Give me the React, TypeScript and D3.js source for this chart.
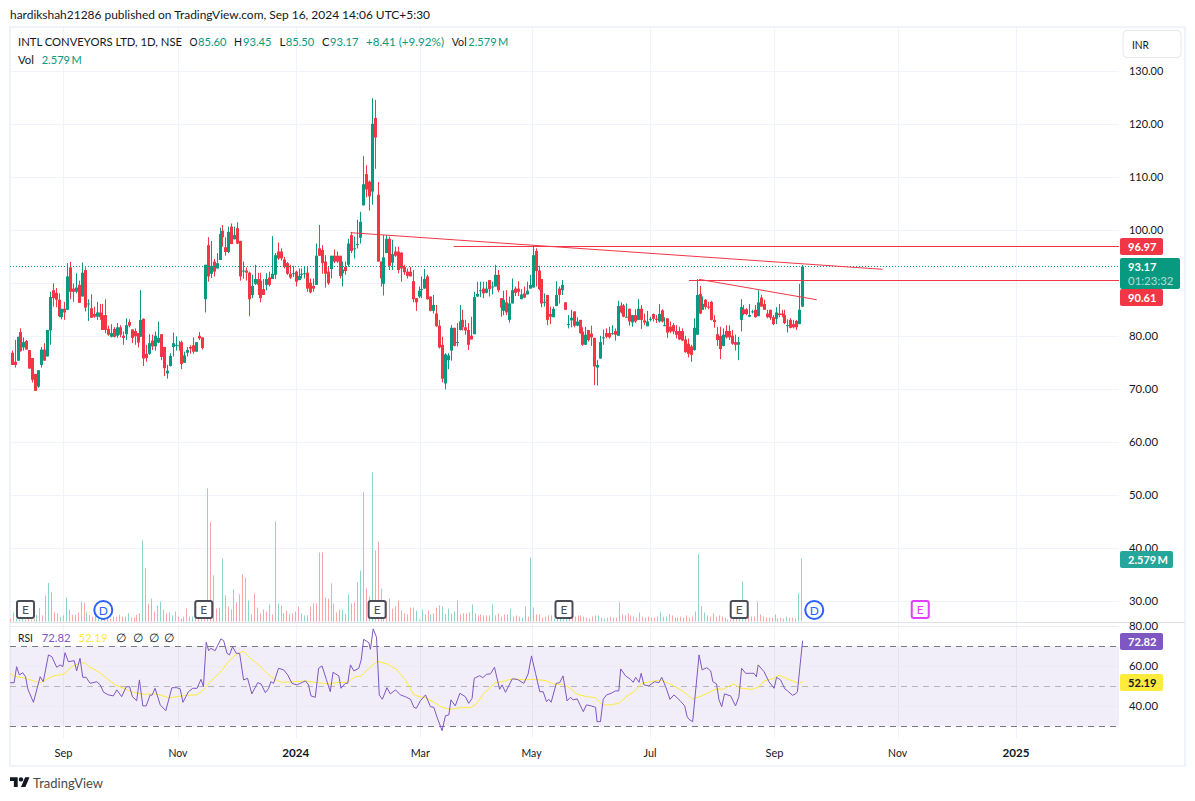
import React from "react";
import * as d3 from "d3";

// candle rows: [open, close, high, low]
const candles: number[][] = [
[76.9,74.6,77.3,74.6],[75.2,74.6,79.3,74.1],[75.4,79.9,79.9,75.4],[80.8,77.2,81.5,77.1],[77.9,78.9,79.8,77.3],[79.1,77.5,79.3,77.5],[77.4,73.9,77.4,73.9],[75.9,71.8,75.9,71.3],[72.9,69.7,72.9,69.7],[70.5,73.6,73.6,70.3],
[74.6,77.5,78,74.1],[77.5,75.4,78.7,75.4],[76.2,81.2,81.2,76.2],[81.1,87.4,88.4,78.4],[88.7,87.2,90,85.6],[88.2,86.9,89.1,85.5],[86.9,83.8,88.1,83.6],[83.6,85.2,85.2,83.2],[85.2,84.5,86.5,83.1],[85,91.3,93.8,85],
[93,88.4,94,87],[89,88.4,90,86.5],[88.4,89.2,91.9,88.1],[89.7,86.3,90.5,86.3],[87.5,92,93.9,87.5],[92.5,85.4,93,84.7],[86.2,86.2,87,82.9],[85.3,83.5,87.9,83.5],[84.2,83.7,85.6,83.5],[83.7,84.5,86.5,83.1],
[84.5,83.6,86.1,83.1],[84,81.2,86.1,81.2],[84,81.2,87,80.6],[81.4,80.3,82,80.1],[79.9,80.6,82.3,79.8],[81.4,79.9,81.7,79.8],[80.1,81.7,82.5,79.7],[81.7,80.3,82.1,79.8],[80.1,79.7,80.9,78.4],[80.4,82.1,83.4,79.3],
[82.7,82,83.2,81.7],[81.3,79.7,81.3,78.7],[81,80,81.5,78.4],[80.6,78.8,80.6,77.9],[79.9,83.1,88.7,79.9],[83.3,75.8,83.4,74.4],[76.7,75.9,78.4,75.2],[76.7,78.7,80.4,76.5],[79.2,78.1,80.3,77.4],[78.1,80.1,80.9,77.3],[78.8,79.7,82.8,78.7],
[80.4,76.1,80.4,75.5],[78,74,78,72.5],[73,73.5,74.6,72],[74.4,76.3,76.8,74.3],[78,78.7,80.7,76.2],[78.2,78.4,80,77.3],[78.2,78.3,79.1,77.3],[78.9,74.8,79.2,73.8],[75,76.4,77.1,75],[76.9,77.4,78,76.2],
[78,77.7,78.3,76.7],[78.3,77.1,79.8,76.7],[77.1,78.9,78.9,77.1],[80.1,79.6,80.8,79.3],[79.8,77.8,79.8,77.5],
[87,93.5,93.5,84.5],[97.2,91.3,98.7,90.3],[91.8,93.3,98,91],[94.1,92.2,94.6,91.3],[92.8,93.8,95.7,92.8],[94.4,99.3,100.5,94.4],[99.9,98.7,101,96.9],[96.8,95.9,98.7,95.2],[95.9,99.7,100.7,95.7],[100.7,97.4,101.3,97.4],
[98.3,99.1,100.7,98.3],[100.4,97.5,101.5,97.4],[98,91.3,98,90.5],[92.4,92.4,94.1,90.9],[92.4,92,93,90.5],[92,87,92.2,83.8],[87.8,89.5,91.6,87.2],[89.9,90.8,93.5,89.7],[90.8,89.7,92,87.8],[90.5,87.2,92,86.4],[88.9,87.8,90.8,87.8],
[89.7,90.8,91.9,88.7],[91.1,89.7,92.2,89.4],[90.8,91.8,98.9,90.8],[91.6,95.3,95.7,90.8],[96,94.7,97.7,94.4],[96,94.7,96.6,94.3],[94.5,93.1,95,92.8],[93.8,91.8,94,91.6],[91.8,91.1,93.5,90.8],[91.8,91.9,93.3,91.2],
[92.2,90.3,92.4,89.4],[90.6,91.4,92.8,90.6],[91.8,91.8,92.8,90.9],[91.9,91.9,93.1,90.9],[92,89,93.1,88.4],[90.1,88.3,90.9,88.1],[89.5,89,90.9,88.4],[89.7,95.2,97.5,89.7],[96.6,95.2,101,95.2],[96.3,93.8,97.2,91.8],
[94.1,91.8,95.3,89.2],[92.2,90,93.1,89.7],[92.7,95.2,95.2,90.9],[95.2,94.1,96.4,93.8],[95.2,94.1,96,93.8],[95.2,91.4,95.2,90.9],[91.9,92.6,94.1,89.4],[93.1,92.3,94.1,91.6],[93.5,97.5,98.4,93.1],[99.1,96.1,99.7,95.7],
[96.6,96.6,98.8,94.7],[97.4,97.4,102,96.6],[98.6,101.6,103.5,97.5],[104.7,108.7,114,104.7],[110.6,107.7,112.3,106.2],[109.2,106.4,109.4,103.7],[107.3,120.1,124.9,104.8],[121.2,117.5,124.6,111.6],[106.7,94.1,109.1,94.1],[94.1,90.9,94.1,89.4],
[89.9,94.9,99.1,87.7],[95.7,98.4,99.1,95.7],[98.4,93.3,98.8,92.5],[93.9,95.5,98.2,92.5],[96,95.2,96.9,95],[96,92.5,96.9,91.9],[95.8,92.8,95.8,90.3],[93.1,92.1,93.5,91.6],[92.2,91.4,92.8,90.9],[92.2,91.3,93.1,91.3],
[90.4,87,92.5,86.4],[87.2,86.4,87.2,84.8],[87.5,88.6,89.4,87.2],[88.9,88.9,91.3,87.2],[89,90.8,92.7,89],[91.3,87,91.6,86.9],[87.5,84.8,87.5,84.7],[84.8,85.9,87.8,84.3],[84.3,81.9,85.9,81.8],[82,77.9,83.1,77.7],
[78.4,72,79.9,71.3],[71.1,76.6,76.8,70],[75.5,76.4,76.8,73.8],[77.3,81.6,82.1,75.4],[81.6,78.2,81.6,78.1],[78.9,78.9,82.5,78.1],[81.2,82.8,85.9,81.1],[83.1,81.7,85,81.1],[81.7,81.1,83.1,80.3],[81.2,78.4,82.5,77.4],
[80.1,79.4,83.7,79.4],[80.4,87.4,88.4,80.4],[87.5,88,90.3,87.4],[88.7,88.7,90.3,87.4],[89,88.1,90.3,87.2],[88.2,89,90.3,88.1],[90.6,88.9,90.6,87.5],[89.4,89.4,90.3,87.9],[89.4,91.6,93.5,89.4],[91.6,88.7,92.5,88.3],
[87.2,85.4,87.2,83.7],[84.8,86.9,88.6,84],[86.4,84.5,88.7,84],[83.1,86.2,87.5,82.6],[86.2,88.7,90.9,86.2],[89,88.2,89.4,87.6],[89,88.4,90.4,87.6],[87,87.9,88.9,87],[88.1,87.3,89.4,87.2],[87.9,88.6,90.3,87.9],
[89,89.7,91.6,89],[89.2,95.3,97.2,89.2],[96.1,92.3,96.6,89.4],[92.4,88.9,93.3,88.7],[90.8,86.2,90.8,85.5],[86.5,86.5,88.1,85.6],[87.8,83.1,87.8,82.1],[84.2,83.7,85.6,82.3],[83.6,85.2,85.6,83.6],
[85.7,87.8,90.4,85.7],[89,87.8,89.4,86.2],[88.7,89.7,90.6,87.8],[86.4,85,86.4,85],[82.3,82.3,84,81.5],[83,83.5,85,81.7],[84.7,82,84.7,81.7],[82,82.8,83.6,81.9],[83.1,80.6,83.1,80.5],[80.9,78.4,81.7,78.2],
[78.4,80.3,81.8,78.4],[81.2,79.3,81.2,79],[80.5,79.8,82,78.2],[79.7,74.3,79.7,70.8],
[74.1,74.6,75.5,70.7],[75.8,78.9,80.1,75.8],[79.8,79.8,81.3,78.4],[80.6,79.9,81.5,79.6],[80.6,79.8,81.8,79.6],[80.6,80.6,82.1,80.3],[81,80.3,81.5,79.2],[80.1,85.7,86.7,80.1],[85.8,84.5,86.4,84.3],[85.8,83.7,86.1,83.6],
[83.7,83.7,86.2,83.6],[85.2,82.8,85.2,82],[82.6,84,84,81.8],[84,82.8,85.1,82.5],[83.1,85.2,87,83.1],[85.2,83.1,85.9,81.4],[83,82.6,84.3,82.1],[81.9,82.8,84.8,81.9],[83.3,83.3,83.7,82.8],[84.2,83.3,84.3,82.8],
[83.3,83.1,84,82.5],[82.8,84.2,86.1,82.6],[84.9,82.8,85.1,82.6],[82.1,82.1,83.6,81.9],[83.4,80.7,83.4,79.7],[81.8,80.9,82.8,80.6],[82.1,80.9,82.5,80.4],[81,80.3,82.1,79.6],[81,79.4,81.8,79.3],[81,79.2,81.5,79.1],
[79.4,77,80.1,76.9],[78.6,76.7,79.6,76],[78.1,76.5,78.4,75.2],[77.4,81.6,83.4,77.3],[80.3,87.8,90.8,80.3],[88,84.3,89.5,84.2],[85,86.1,87.5,85],[86.9,85.5,87,85.1],[85.6,85.5,86.5,85.1],[86.5,83.1,86.7,83],
[83.1,82.7,84,81.6],[80.4,79.3,81.8,78.2],[80.1,77.6,81.8,75.7],[78.2,80.3,81.5,78.1],[81,79.8,82.1,79.6],[81,79.8,82.1,79.3],[80.1,78.6,81.2,78.4],[78.9,78.4,80.3,77.3],[78.4,78.9,79.9,75.5],[83.1,85.5,87,80.9],
[85.1,84.2,85.9,84],[85.1,84.2,85.3,84],[83.7,84,86.1,83.6],[84.7,84.7,85,84.3],[85,83.6,85.9,83.5],[83.8,86.4,88.7,83.8],[87.3,85.6,87.8,85.6],[86.1,85,86.9,85],[84.3,83.6,85,83.4],[85,83.5,85,83.1],
[83.6,82.3,84,82.1],[83.3,84.5,85.5,82.3],[84.3,84,86.1,83.6],[84.3,84,85,83.6],[84,82.5,85,82.3],[82.1,82.1,83.2,80.7],[83.1,81.6,83.4,81.5],[82.3,81.7,83.1,81.5],[82.9,81.7,83.1,81.2],[82.3,85,89.9,82.3],
[85.6,93.17,93.45,85.5],
];

// traded volume in millions; negative = down day, positive = up day
const volumes = [
-.11,-.37,.11,-.08,.11,-.08,-.11,-.08,-.11,.27,.55,-.25,1.07,1.58,-1.19,-.37,-.33,.19,-.25,.98,-.49,-.27,-.27,-.37,.82,-.78,.37,-.27,-.2,-.27,.11,-.11,-.11,-.11,-.11,-.2,-.2,.27,-.2,-.2,.33,-.16,-.16,-.27,-.33,3.32,-2.17,-.74,.94,-.41,.66,.82,-.49,-.33,.37,.25,.41,-.2,.12,-.2,-.53,.2,.2,-.16,-.11,-.11,-.11,
5.45,-4.06,1.89,-.53,.57,2.58,-1.07,-.61,-.49,1.31,-.78,1.11,-1.93,-1.8,.86,-.29,-1.15,.57,-.33,-.49,-.41,.7,-.29,4.1,.74,-.66,-.33,-.45,-.29,-.33,.41,-.61,.33,.25,.25,-.61,-.74,-.74,2.83,-2.83,-.98,-.94,1.56,-.74,-.37,-.49,.49,-.29,1.11,-.74,-.78,1.6,2.09,5.29,-1.35,-1.02,6.11,-2.91,-3.28,-1.35,.74,-.82,.94,-.53,-.61,-.86,-.45,-.33,-.29,-.57,-.57,.45,
-.08,.49,-.29,-.45,.29,-.33,-.57,-.66,.61,.29,.53,-.33,.41,.86,-.29,-.33,-.33,-.37,.7,.33,-.25,-.29,-.25,-.25,-.25,.7,-.25,-.33,.2,-.29,.29,.53,-.2,-.25,-.2,.16,.61,-.2,2.62,-.57,-.29,-.29,-.16,-.2,-.25,-.25,.11,.11,.11,.11,.11,.11,-.2,-.2,-.25,-.25,.2,-.16,-.12,-.2,.25,.25,.16,.12,-.16,-.2,.16,-.16,.78,-.29,-.25,-.33,-.25,.2,-.16,.37,-.2,.16,-.2,-.16,-.16,.2,.37,.2,.2,-.29,-.25,-.16,-.16,-.2,-.16,-.25,-.16,-.2,.41,2.75,-.61,.37,-.25,-.2,-.33,-.2,-.25,-.2,-.16,-.08,-.08,-.11,-.11,-.11,1.64,-.11,-.2,-.2,-.2,.82,-.29,-.2,-.16,-.16,-.16,.29,-.12,-.16,-.12,.2,-.16,-.16,-.12,1.15,2.579,
];

const rsiBars = [-0.5,0.8,1.6,2.5,3.6,4.5,5.3,7.1,9.3,10.3,12,13.1,14.7,15.8,16.7,17.4,18.5,20.4,21.2,22.3,23.2,24.3,25.6,27.8,28.9,30,31.6,33.2,34.3,35.9,37.4,38.5,39.4,40.8,41.7,42.8,43.9,45.2,45.8,46.8,48.5,50.3,52.3,53.9,55,55.9,57.7,59.1,60.5,61.8,62.6,63.5,64.3,65,66.4,68.3,69.2,70.3,71.1,72.1,73.3,74.4,75.7,77,78.4,80.3,81.4,82.8,83.9,84.6,85.5,87.1,88.8,90.1,91.5,93.1,94.2,95.9,96.9,97.7,99.1,100.2,101.3,102.7,104,104.9,106.8,107.5,108.9,109.7,110.6,111.7,113.3,114.1,114.9,116.6,117.1,118,119.1,120,121,122.5,123.6,125.3,126.9,128.5,130.2,131.3,132.1,133.4,135.1,136.7,137.8,138.8,140.5,141.6,142.7,143.4,144.8,146.3,148.1,149.2,150.3,151,152.8,153.8,155,156.3,157.6,159.3,160.1,161.2,163.4,165,167.2,168.6,169.7,171,172.4,173.5,174.6,175.3,176.1,177.8,178.9,180,181.3,182.4,183.3,184.6,186.6,187.6,189.2,190.6,191.1,192.2,193.1,194.2,195.7,197.1,198.2,198.8,200.4,202,202.9,203.7,204.8,205.5,206.4,208,209.9,211.3,212.2,213.5,214.9,216.2,218.2,219.7,220.5,221.1,222.3,224.4,225.4,226.9,228.2,228.9,230.1,230.9,231.8,232.7,234.7,236.3,237.4,238.3,239.6,241.2,242.3,243.1,243.7,245.6,247.2,248.9,249.7,251,252.4,253.2,254.9,255.9,256.5,258.2];
const rsiValues = [51.8,51.8,59.8,55.7,56.8,54.8,48.5,42,54.8,52.3,65.7,64.8,59.5,60.7,59.8,66.8,62.3,62.8,57.7,64,54.5,54.5,51.5,52.3,50.7,47,45.7,45.2,48.2,44.8,49.8,49.8,44.8,42.8,53.2,40.2,40.2,45.7,45.5,49,40.7,37.8,49.3,49.3,48.7,42,47.3,49,49,53.5,49.8,72,67.8,69,67.8,73.7,72.8,66.5,65.7,69.8,66.5,66.5,53.2,54,46.2,51.8,51.2,46.8,49,52.3,51.5,59,58.2,55.7,51.5,50.7,51.5,52.7,50.7,45.2,44.5,59,60.2,53.5,47.3,57,55.2,49,51.5,51.5,60.7,57.7,59,63.2,73.5,71.8,68.5,78.7,74.5,45.7,43.5,49.3,46.2,48.2,45.7,44.8,43.5,39.5,39,42.7,45.7,39.8,39.5,34.8,27.8,35.3,35.7,43.2,40.2,46.5,44.8,41.5,44,54,55.3,54.3,56,56.2,59.5,48.5,50.7,47,53.7,53.5,51.5,56.2,65.2,56.5,47.3,47.3,42.3,43.5,42,51.5,51.8,55.2,42.7,44.5,43.2,43.7,37.3,40.7,40.2,39.5,32.3,32.3,43.5,45.7,46.5,47.7,47.7,58.7,55.2,53.5,52,54.5,52,56.5,50.7,50.2,52.3,51.8,54.5,49.8,43.5,45.7,42.8,40.2,34.8,33.5,32.3,65.7,58.2,59.3,57.7,52.3,51.2,43.2,39.8,46.2,45.2,40.2,44.8,59,56.5,56.5,56.5,54.8,60.7,57.3,52.3,49,54.5,53.2,48.7,47.8,45.5,46.2,47.3,72.82];
const maBars = [-0.5,1.1,3.8,6,9.3,11.4,13.6,16.9,19.6,22.3,24,25.6,28.3,31,33.8,36.5,39.8,43,46.3,48.5,51.2,53.9,57.2,60.5,62.6,64.8,68.1,70.3,73,75.7,77.9,81.2,83.9,86.1,88.2,91,95.9,99.7,104,106.8,109.5,112.2,114.1,116.6,119.3,122.5,125.8,128.5,131.3,133.4,135.6,138.3,140.5,143.2,146.5,149.7,151.9,154.1,157.9,160.1,163.4,167.2,171,174.3,177,180.2,182.4,184.6,187.9,190.6,192.8,195.5,198.2,200.9,203.1,205.8,208.6,211.8,215.1,218.9,222.2,225.4,229.8,232.5,235.6,238,241.8,244,245.6,248.3,250.5,253.2,257,258.2];
const maValues = [56.5,54.8,54.3,53.2,51.8,53.5,55.2,56,59.8,61.8,61.5,59.5,57.3,54,50.7,49,47,46,46.2,45.7,44.2,44.8,45.5,45.7,48.2,52.3,57,61.5,65.7,67.5,64,59.8,55.7,53.2,52,52.2,52.7,51.8,51.2,52,52,54.8,55.2,59,62.5,61.2,58.2,53.2,45.7,44.8,44,41.5,39.5,38.5,39.3,39.3,41.5,46.5,51.8,52.3,53.8,53.2,53.5,52.8,51,51,49,46,44.8,44.3,40.7,40.7,41.5,45.2,47.3,51.5,52.3,53.2,51,47.8,43.7,45.3,48.5,48.7,51.2,49,48.5,49.8,52.7,53.7,55.5,53.7,51.5,52.19];

const priceTicks = [130,120,110,100,90,80,70,60,50,40,30];
const rsiGridTicks = [80,60,40];
const rsiBandTicks = [70,50,30];
const rsiTickLabels = [80,60,40];
const timeTicks = [
  { at: 16.9, label: "Sep", bold: false, w: 18 },
  { at: 54.3, label: "Nov", bold: false, w: 19 },
  { at: 92.7, label: "2024", bold: true, w: 27 },
  { at: 133.4, label: "Mar", bold: false, w: 19 },
  { at: 169.7, label: "May", bold: false, w: 20 },
  { at: 208.4, label: "Jul", bold: false, w: 13 },
  { at: 249, label: "Sep", bold: false, w: 18 },
  { at: 289.2, label: "Nov", bold: false, w: 19 },
  { at: 327.9, label: "2025", bold: true, w: 27 },
];
const earningsAt = [4.5, 62.7, 119.3, 180.3, 237.5];
const futureEarningsAt = [296.6];
const dividendAt = [29.9, 262];
// trend lines: [time1, price1, time2, price2]
const trendLines = [
  [110.6, 99.55, 284.3, 92.64],
  [224.4, 90.75, 262.8, 86.9],
];
const horizontalRays = [
  { at: 144.3, price: 96.97 },
  { at: 221.1, price: 90.61 },
];
const lastPrice = 93.17;
const lastVolume = 2.579;
const lastRsi = 72.82;
const lastRsiMa = 52.19;

const FONT = "Lato, 'Noto Sans', sans-serif";
const GREEN = "#089981";
const RED = "#F23645";
const PURPLE = "#7E57C2";
const YELLOW = "#FFEB3B";
const GRID = "#f0f3fa";
const TEXT = "#131722";
const PANE = { l: 10, r: 1119, t: 27, b: 738 };

export default function App() {
  const x = d3.scaleLinear().domain([0, 258]).range([11.7, 802]);
  const cx = d3.scaleLinear().domain([0, candles.length - 1]).range([11.7, 802]);
  const vx = d3.scaleLinear().domain([0, volumes.length - 1]).range([10.5, 801.5]);
  const y = d3.scaleLinear().domain([120, 30]).range([124.3, 601.3]);
  const v = d3.scaleLinear().domain([0, lastVolume]).range([621.5, 558.5]);
  const r = d3.scaleLinear().domain([70, 30]).range([646.3, 726.3]);
  const snap = (n: number) => Math.round(n) + 0.5;
  const rsiLine = d3.line<number>().x((_, i) => x(rsiBars[i])).y((d) => r(d));
  const maLine = d3.line<number>().x((_, i) => x(maBars[i])).y((d) => r(d));

  const t = (s: string, px: number, py: number, fill = TEXT, w?: number, extra: any = {}) => (
    <text key={`${s}-${px}-${py}`} x={px} y={py} fill={fill} fontSize={12} fontFamily={FONT}
      {...(w ? { textLength: w, lengthAdjust: "spacingAndGlyphs" } : {})} {...extra}>{s}</text>
  );
  const tag = (s: string, top: number, w: number, fill: string, color = "#fff") => (
    <g>
      <rect x={1120} y={top} width={w} height={17} rx={2} fill={fill} />
      {t(s, 1128, top + 12.7, color, 28.5, { fontWeight: 700 })}
    </g>
  );

  return (
    <svg width={1195} height={801} style={{ position: "absolute", left: 0, top: 0, background: "#fff" }}>
      <defs>
        <clipPath id="pane"><rect x={PANE.l} y={PANE.t} width={PANE.r - PANE.l} height={PANE.b - PANE.t} /></clipPath>
      </defs>
      {t("hardikshah21286 published on TradingView.com, Sep 16, 2024 14:06 UTC+5:30", 10, 19, TEXT, 420)}
      <rect x={10} y={27} width={1175} height={739} fill="none" stroke={GRID} strokeWidth={2} />

      {/* grid */}
      {priceTicks.map((p) => (
        <line key={p} x1={PANE.l} x2={PANE.r} y1={snap(y(p))} y2={snap(y(p))} stroke={GRID} />
      ))}
      {timeTicks.map((k) => (
        <line key={k.at} x1={snap(x(k.at))} x2={snap(x(k.at))} y1={PANE.t} y2={PANE.b} stroke={GRID} />
      ))}

      {/* volume */}
      <g clipPath="url(#pane)">
        {volumes.map((m, i) => {
          const a = Math.abs(m);
          return (
            <rect key={i} x={Math.floor(vx(i))} y={v(a)} width={1} height={v(0) - v(a)} fill={m > 0 ? "#8fd4cb" : "#f9a6a6"} />
          );
        })}
      </g>

      {/* candles */}
      <g clipPath="url(#pane)">
        {candles.map((c, i) => {
          const [o, cl, h, l] = c;
          const px = cx(i);
          const col = cl >= o ? GREEN : RED;
          const top = y(Math.max(o, cl));
          const bot = y(Math.min(o, cl));
          return (
            <g key={i}>
              <rect x={Math.round(px)} y={y(h)} width={1} height={y(l) - y(h)} fill={col} />
              <rect x={Math.round(px) - 1} y={top} width={3} height={Math.max(1, bot - top)} fill={col} />
            </g>
          );
        })}
        <line x1={PANE.l} x2={PANE.r} y1={snap(y(lastPrice))} y2={snap(y(lastPrice))} stroke={GREEN} strokeDasharray="1 2" />
        {trendLines.map((l, i) => (
          <line key={i} x1={x(l[0])} y1={y(l[1])} x2={x(l[2])} y2={y(l[3])} stroke={RED} strokeWidth={1} />
        ))}
        {horizontalRays.map((l, i) => (
          <line key={i} x1={x(l.at)} y1={snap(y(l.price))} x2={PANE.r} y2={snap(y(l.price))} stroke={RED} strokeWidth={1} />
        ))}
      </g>

      {/* earnings & dividends */}
      {earningsAt.map((b) => (
        <g key={b}>
          <rect x={x(b) - 8.5} y={601} width={17} height={17} rx={2} fill="#fff" stroke="#4a4d57" strokeWidth={2} />
          {t("E", x(b), 614, "#4a4d57", undefined, { textAnchor: "middle" })}
        </g>
      ))}
      {futureEarningsAt.map((b) => (
        <g key={b}>
          <rect x={x(b) - 8.5} y={601} width={17} height={17} rx={2} fill="#fff" stroke="#E040FB" strokeWidth={2} />
          {t("E", x(b), 614, "#E040FB", undefined, { textAnchor: "middle" })}
        </g>
      ))}
      {dividendAt.map((b) => (
        <g key={b}>
          <circle cx={x(b)} cy={610} r={9} fill="#fff" stroke="#2962FF" strokeWidth={2} />
          {t("D", x(b), 614.5, "#2962FF", undefined, { textAnchor: "middle" })}
        </g>
      ))}

      {/* RSI pane */}
      <line x1={10} x2={1185} y1={622.5} y2={622.5} stroke="#e0e3eb" />
      <rect x={PANE.l} y={r(70)} width={PANE.r - PANE.l} height={r(30) - r(70)} fill={PURPLE} fillOpacity={0.1} />
      {rsiGridTicks.map((p) => (
        <line key={p} x1={PANE.l} x2={PANE.r} y1={snap(r(p))} y2={snap(r(p))} stroke="#ebebf3" />
      ))}
      {rsiBandTicks.map((p) => (
        <line key={p} x1={PANE.l} x2={PANE.r} y1={snap(r(p))} y2={snap(r(p))} stroke="#787B86" strokeOpacity={p === 50 ? 0.5 : 1} strokeDasharray="6 5" />
      ))}
      <g clipPath="url(#pane)">
        <path d={maLine(maValues) ?? ""} fill="none" stroke={YELLOW} strokeWidth={1} />
        <path d={rsiLine(rsiValues) ?? ""} fill="none" stroke={PURPLE} strokeWidth={1} />
      </g>

      {/* legends */}
      {t("INTL CONVEYORS LTD, 1D, NSE", 18, 46, TEXT, 164)}
      {t("O", 189.5, 46, TEXT, 8)}{t("85.60", 198, 46, GREEN, 28.5)}
      {t("H", 234, 46, TEXT, 8)}{t("93.45", 243, 46, GREEN, 28.5)}
      {t("L", 279.5, 46, TEXT, 6)}{t("85.50", 285.7, 46, GREEN, 28.5)}
      {t("C", 322, 46, TEXT, 7.5)}{t("93.17", 330, 46, GREEN, 28.5)}
      {t("+8.41 (+9.92%)", 366, 46, GREEN, 78)}
      {t("Vol", 451.7, 46, TEXT, 15)}{t("2.579\u2009M", 468.3, 46, GREEN, 40)}
      {t("Vol", 18, 64, TEXT, 16)}{t("2.579\u2009M", 41.7, 64, GREEN, 40)}
      {t("RSI", 18, 642, TEXT, 15)}{t("72.82", 41.7, 642, PURPLE, 29)}{t("52.19", 78.5, 642, YELLOW, 29)}
      {t("∅", 116, 642)}{t("∅", 132.5, 642)}{t("∅", 149, 642)}{t("∅", 164, 642)}

      {/* axis labels */}
      {priceTicks.map((p) => t(p.toFixed(2), 1129, y(p) + 3.3, TEXT, p >= 100 ? 34.3 : 29))}
      {rsiTickLabels.map((p) => t(p.toFixed(2), 1129, r(p) + 3.3, TEXT, 29))}
      {timeTicks.map((k) => t(k.label, x(k.at) - k.w / 2, 756.5, TEXT, k.w, { fontWeight: k.bold ? 700 : 400 }))}
      <rect x={1123} y={30.5} width={58} height={27} rx={4} fill="#fff" stroke="#e6e8f0" />
      {t("INR", 1132, 49, TEXT, 17)}

      {tag(lastRsiMa.toFixed(2), 674, 43, YELLOW, TEXT)}
      {tag(lastRsi.toFixed(2), 633, 43, PURPLE)}
      <g>
        <rect x={1120} y={551} width={53} height={17} rx={2} fill="#26A69A" />
        {t("2.579\u2009M", 1128, 563.7, "#fff", 40, { fontWeight: 700 })}
      </g>
      {tag("96.97", 238, 43, RED)}
      {tag("90.61", 289, 43, RED)}
      <g>
        <rect x={1120} y={258} width={60} height={31} rx={2} fill={GREEN} />
        {t(lastPrice.toFixed(2), 1128, 271, "#fff", 28.5, { fontWeight: 700 })}
        {t("01:23:32", 1128, 285, "#ffffffb0", 45.5)}
      </g>

      {/* footer */}
      <g transform="translate(10,775) scale(0.55)" fill="#131722">
        <path d="M14 22H7V11H0V4h14v18zM28 22h-8l7.5-18h8L28 22z" />
        <circle cx={20} cy={8} r={4} />
      </g>
      {t("TradingView", 33, 788, "#4a4a4a", 70, { fontSize: 14 })}
    </svg>
  );
}
